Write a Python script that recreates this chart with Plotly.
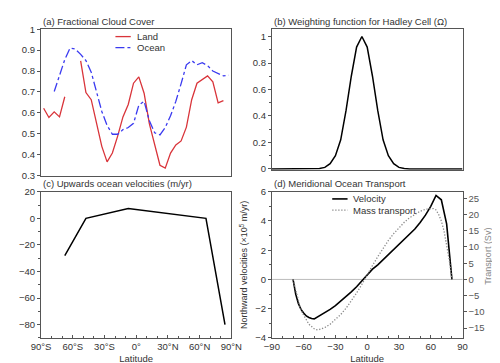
import plotly.graph_objects as go

# (a) fractional cloud cover, 5 degree bands
lat_land_s = [-87.5, -82.5, -77.5, -72.5, -67.5]
land_s = [0.622, 0.578, 0.605, 0.581, 0.677]
lat_land = [-52.5, -47.5, -42.5, -37.5, -32.5, -27.5, -22.5, -17.5, -12.5, -7.5, -2.5,
            2.5, 7.5, 12.5, 17.5, 22.5, 27.5, 32.5, 37.5, 42.5, 47.5, 52.5, 57.5, 62.5,
            67.5, 72.5, 77.5, 82.5]
land = [0.849, 0.697, 0.663, 0.555, 0.44, 0.366, 0.408, 0.489, 0.581, 0.64, 0.742,
        0.772, 0.694, 0.547, 0.447, 0.35, 0.336, 0.408, 0.447, 0.466, 0.532, 0.663, 0.742, 0.761,
        0.777, 0.748, 0.648, 0.659]
lat_ocean = [-77.5, -72.5, -67.5, -62.5, -57.5, -52.5, -47.5, -42.5, -37.5, -32.5, -27.5,
             -22.5, -17.5, -12.5, -7.5, -2.5, 2.5, 7.5, 12.5, 17.5, 22.5, 27.5, 32.5, 37.5,
             42.5, 47.5, 52.5, 57.5, 62.5, 67.5, 72.5, 77.5, 82.5, 87.5]
ocean = [0.702, 0.78, 0.855, 0.91, 0.905, 0.88, 0.85, 0.795, 0.70, 0.607, 0.54,
         0.498, 0.498, 0.52, 0.53, 0.55, 0.637, 0.655, 0.562, 0.505, 0.495, 0.53, 0.586, 0.655,
         0.74, 0.83, 0.85, 0.83, 0.84, 0.826, 0.80, 0.788, 0.777, 0.78]

# (b) Hadley cell weighting
lat_w = list(range(-90, 95, 5))
weight = [0, 0, 0, 0, 0, 0, 0, 0, 0, 0.003, 0.012, 0.04, 0.10, 0.22, 0.44, 0.70, 0.92,
          1.0,
          0.92, 0.70, 0.44, 0.22, 0.10, 0.04, 0.012, 0.003, 0, 0, 0, 0, 0, 0, 0, 0, 0, 0, 0]

# (c) upwards ocean velocities
lat_up = [-67.5, -47.5, -7.5, 66, 84]
w_up = [-28, 0, 7.3, 0, -80]

# (d) meridional ocean transport
lat_v = [-70, -67.5, -65, -62.5, -60, -57.5, -55, -52.5, -50, -47.5, -45, -40, -35, -30,
         -25, -20, -15, -10, -5, 0, 5, 10, 15, 20, 25, 30, 35, 40, 45, 50, 55, 60, 65, 70, 75, 80]
vel = [0, -1.0, -1.65, -2.05, -2.3, -2.5, -2.6, -2.68, -2.7, -2.6, -2.5, -2.3, -2.05, -1.8,
       -1.5, -1.2, -0.85, -0.5, -0.1, 0.3, 0.7, 1.0, 1.35, 1.7, 2.0, 2.35, 2.7, 3.05, 3.45, 3.9,
       4.4, 5.0, 5.75, 5.45, 3.8, 0]
lat_m = [-70, -67.5, -65, -62.5, -60, -55, -50, -47.5, -45, -40, -35, -30, -25, -20, -15, -10,
         -5, 0, 5, 10, 15, 20, 25, 30, 35, 40, 45, 50, 55, 60, 62.5, 65, 67.5, 70, 72.5, 75, 77.5, 80]
mass = [0, -3.5, -7, -9.5, -11, -13.8, -15.2, -15.5, -15.4, -14.8, -13.8, -12.4, -10.8, -8.9,
        -6.7, -4.2, -1.5, 1.5, 4.3, 7, 9.6, 12, 14.1, 16, 17.6, 19, 20.1, 21, 21.6, 21.8, 21.8,
        21.4, 20, 18, 15, 10.5, 6, 0]

lat_ticks = [-90, -60, -30, 0, 30, 60, 90]
lat_labels = ["90°S", "60°S", "30°S", "0°", "30°N", "60°N", "90°N"]

W, H = 500, 363
def dx(a, b):
    return [a / W, b / W]
def dy(top, bot):
    return [1 - bot / H, 1 - top / H]

ink = "#333333"
frame = "#555555"
red = "#d9343a"
blue = "#3a3af0"
grey = "#8a8a8a"
tf = dict(family="Liberation Sans, Arial, sans-serif", size=9.5, color=ink)

fig = go.Figure()

fig.add_trace(go.Scatter(x=lat_land_s, y=land_s, mode="lines", line=dict(color=red, width=1.3),
                         xaxis="x", yaxis="y"))
fig.add_trace(go.Scatter(x=lat_land, y=land, mode="lines", line=dict(color=red, width=1.3),
                         xaxis="x", yaxis="y"))
fig.add_trace(go.Scatter(x=lat_ocean, y=ocean, mode="lines",
                         line=dict(color=blue, width=1.3, dash="dashdot"), xaxis="x", yaxis="y"))

fig.add_trace(go.Scatter(x=lat_w, y=weight, mode="lines", line=dict(color="black", width=1.5),
                         xaxis="x2", yaxis="y2"))

fig.add_trace(go.Scatter(x=lat_up, y=w_up, mode="lines", line=dict(color="black", width=1.5),
                         xaxis="x3", yaxis="y3"))

fig.add_trace(go.Scatter(x=lat_v, y=vel, mode="lines", line=dict(color="black", width=1.6),
                         xaxis="x4", yaxis="y4"))
fig.add_trace(go.Scatter(x=lat_m, y=mass, mode="lines",
                         line=dict(color=grey, width=1.3, dash="1.3px,1.7px"),
                         xaxis="x4", yaxis="y5"))

ax = dict(showgrid=False, zeroline=False, showline=True, linecolor=frame, linewidth=1,
          mirror=True, tickfont=tf, tickcolor=frame)

fig.update_layout(
    width=W, height=H, margin=dict(l=0, r=0, t=0, b=0),
    plot_bgcolor="white", paper_bgcolor="white",
    font=tf, showlegend=False,
    xaxis=dict(ax, domain=dx(24, 222.7), range=[-90, 90], showticklabels=False, ticks=""),
    yaxis=dict(ax, domain=dy(15.7, 166.7), range=[0.3, 1], dtick=0.1, ticks="outside",
               ticklen=3, tickformat=".1~f"),
    xaxis2=dict(ax, domain=dx(265, 464), range=[-90, 90], showticklabels=False, ticks="",
                anchor="y2"),
    yaxis2=dict(ax, domain=dy(15.7, 160.5), range=[-0.005, 1.055], tickvals=[0, 0.2, 0.4, 0.6, 0.8, 1],
                ticks="outside", ticklen=3, anchor="x2",
                minor=dict(tickvals=[0.1, 0.3, 0.5, 0.7, 0.9], ticks="outside", ticklen=2,
                           tickcolor=frame)),
    xaxis3=dict(ax, domain=dx(24, 222.7), range=[-90, 90], tickvals=lat_ticks, ticktext=lat_labels,
                ticks="inside", ticklen=3, anchor="y3",
                minor=dict(dtick=10, tick0=0, ticks="inside", ticklen=2, tickcolor=frame),
                title=dict(text="Latitude", font=tf, standoff=4)),
    yaxis3=dict(ax, domain=dy(183.3, 334), range=[-90, 20], dtick=20, ticks="outside", ticklen=3,
                anchor="x3", minor=dict(dtick=10, tick0=0, ticks="outside", ticklen=2, tickcolor=frame)),
    xaxis4=dict(ax, domain=dx(265, 464), range=[-90, 90], dtick=30, tick0=0, ticks="inside",
                ticklen=3, anchor="y4",
                minor=dict(dtick=10, tick0=0, ticks="inside", ticklen=2, tickcolor=frame),
                title=dict(text="Latitude", font=tf, standoff=4)),
    yaxis4=dict(ax, domain=dy(183.3, 334), range=[-4, 6], dtick=2, ticks="outside", ticklen=3,
                anchor="x4", mirror=False,
                minor=dict(dtick=1, tick0=0, ticks="outside", ticklen=2, tickcolor=frame),
                title=dict(text="Northward velocities (×10<sup>5</sup> m/yr)",
                           font=dict(tf, size=9), standoff=5)),
    yaxis5=dict(ax, range=[-18, 27], tickvals=[-15, -10, -5, 0, 5, 10, 15, 20, 25], ticks="outside",
                ticklen=3, overlaying="y4", side="right", anchor="x4", mirror=False,
                tickfont=dict(tf, color="#555555")),
)

# light zero line in (d)
fig.add_shape(type="line", xref="x4 domain", yref="y4", x0=0, x1=1, y0=0, y1=0,
              line=dict(color="#bbbbbb", width=1), layer="below")

# right axis title of (d)
fig.add_annotation(text="Transport (Sv)", x=491 / W, y=1 - 250 / H, xref="paper", yref="paper",
                   xanchor="center", yanchor="middle", textangle=-90, showarrow=False,
                   font=dict(tf, size=9, color="#888888"))

titles = [
    ("(a) Fractional Cloud Cover", 24, 8),
    ("(b) Weighting function for Hadley Cell (Ω)", 265, 8),
    ("(c) Upwards ocean velocities (m/yr)", 24, 175),
    ("(d) Meridional Ocean Transport", 265, 175),
]
for txt, px, py in titles:
    fig.add_annotation(text=txt, x=px / W, y=1 - py / H, xref="paper", yref="paper",
                       xanchor="left", yanchor="middle", showarrow=False, font=tf)

# hand-drawn legends: (label, colour, dash, x of line start, y in px, width)
legend_items = [
    ("Land", red, "solid", 101.7, 23.3, 1.3),
    ("Ocean", blue, "dashdot", 101.7, 34.7, 1.3),
    ("Velocity", "black", "solid", 328, 190.7, 1.6),
    ("Mass transport", grey, "1.3px,1.7px", 328, 202.3, 1.3),
]
for label, col, dash, lx, ly, lw in legend_items:
    fig.add_shape(type="line", xref="paper", yref="paper", x0=lx / W, x1=(lx + 16) / W,
                  y0=1 - ly / H, y1=1 - ly / H, line=dict(color=col, width=lw, dash=dash))
    fig.add_annotation(text=label, x=(lx + 20) / W, y=1 - ly / H, xref="paper", yref="paper",
                       xanchor="left", yanchor="middle", showarrow=False, font=tf)

fig.write_html("out.html")
